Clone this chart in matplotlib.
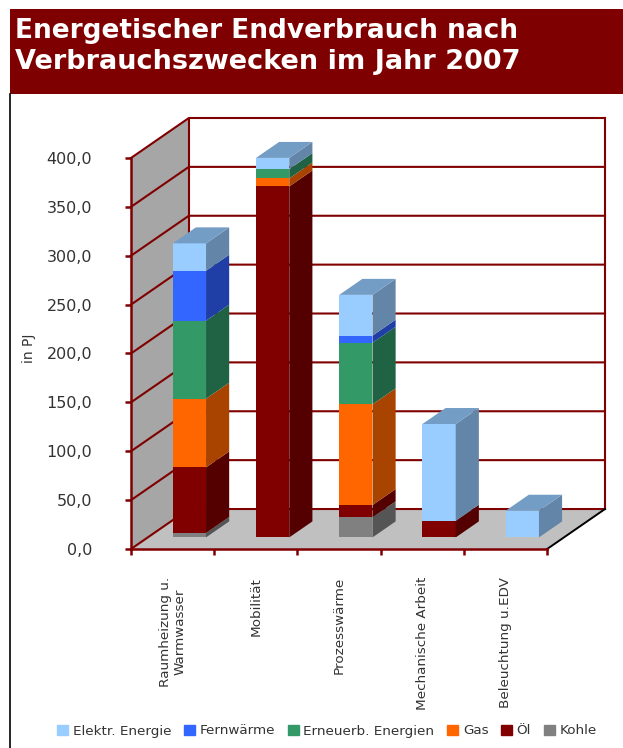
import numpy as np
import matplotlib
matplotlib.use('Agg')
import matplotlib.pyplot as plt
from matplotlib.patches import Patch, Rectangle

#Datos
kategorien=['Raumheizung u.\nWarmwasser','Mobilität','Prozesswärme','Mechanische Arbeit','Beleuchtung u.EDV']
kohle=[4.6,0,20.5,0,0]
oel=[67,359,12.6,17,0]
gas=[70.3,8.2,103,0,0]
erneuerb=[79.8,9.6,63,0,0]
fernwaerme=[51.1,0,7.3,0,0]
elektr=[28,11.4,41.7,99,27.3]
yticks=[0,50,100,150,200,250,300,350,400]
yticklabels=['0,0','50,0','100,0','150,0','200,0','250,0','300,0','350,0','400,0']

#nombre, valores, color frente, color lado (de abajo a arriba)
serien=[('Kohle',kohle,'#808080','#555555'),
        ('Öl',oel,'#800000','#540000'),
        ('Gas',gas,'#ff6600','#a84300'),
        ('Erneuerb. Energien',erneuerb,'#339966','#206344'),
        ('Fernwärme',fernwaerme,'#3366ff','#1f3fa6'),
        ('Elektr. Energie',elektr,'#99ccff','#6285a8')]
top_farbe='#749dc6'
rot='#800000'
text_farbe='#333333'

#Perspectiva oblicua
dx=0.695
dy=40.9

W,H=623.,748.
fig=plt.figure(figsize=(W/100,H/100),dpi=100,facecolor='white')
ax=fig.add_axes((131/W,1-549/H,474/W,431/H))
ax.set_xlim(0,5+dx)
ax.set_ylim(0,400+dy)
ax.patch.set_visible(False)

#Paredes y suelo
ax.fill([0,dx,dx,0],[0,dy,400+dy,400],color='#a6a6a6',lw=0,zorder=1)
ax.fill([0,5,5+dx,dx],[0,0,dy,dy],color='#c0c0c0',lw=0,zorder=1)
for v in yticks:
    ax.plot([0,dx,5+dx],[v,v+dy,v+dy],color=rot,lw=1.5,zorder=2,solid_capstyle='projecting',clip_on=False)
ax.plot([dx,dx],[dy,400+dy],color=rot,lw=1.5,zorder=2)
ax.plot([5+dx,5+dx],[dy,400+dy],color=rot,lw=1.5,zorder=2,clip_on=False)
ax.plot([5,5+dx],[0,dy],color='black',lw=1.4,zorder=2,clip_on=False)

#Barras
ancho=0.4
d0,d1=0.29,0.69
ex=(d1-d0)*dx
ey=(d1-d0)*dy
pos=np.arange(5)+0.5+d0*dx
basis=np.full(5,d0*dy)
for name,werte,farbe,seite in serien:
    werte=np.array(werte,dtype=float)
    ax.bar(pos,werte,ancho,bottom=basis,color=farbe,lw=0,zorder=4)
    for i in range(5):
        if werte[i]>0:
            xr=pos[i]+ancho/2
            a=basis[i]
            b=basis[i]+werte[i]
            ax.fill([xr,xr+ex,xr+ex,xr],[a,a+ey,b+ey,b],color=seite,lw=0,zorder=4)
    basis=basis+werte
for i in range(5):
    xl=pos[i]-ancho/2
    xr=pos[i]+ancho/2
    ax.fill([xl,xr,xr+ex,xl+ex],[basis[i],basis[i],basis[i]+ey,basis[i]+ey],color=top_farbe,lw=0,zorder=4)

#Ejes
for s in ['top','right']:
    ax.spines[s].set_visible(False)
ax.spines['left'].set_bounds(0,400)
ax.spines['bottom'].set_bounds(0,5)
for s in ['left','bottom']:
    ax.spines[s].set_color(rot)
    ax.spines[s].set_linewidth(1.8)
    ax.spines[s].set_zorder(3)
ax.set_yticks(yticks)
ax.set_yticklabels(yticklabels,fontsize=11.5,color=text_farbe)
ax.tick_params(axis='y',length=4,width=1.8,color=rot,pad=24)
ax.set_xticks(np.arange(6),minor=True)
ax.tick_params(axis='x',which='minor',length=4,width=1.8,color=rot)
ax.set_xticks(np.arange(5)+0.5)
ax.set_xticklabels(kategorien,rotation=90,fontsize=9.7,color=text_farbe,ha='center',va='top',linespacing=1.1)
ax.tick_params(axis='x',which='major',length=0,pad=20)
ax.set_ylabel('in PJ',fontsize=10,color=text_farbe)
ax.yaxis.set_label_coords(-0.2,0.466)

#Leyenda
griffe=[Patch(color=s[2],label=s[0]) for s in serien[::-1]]
fig.legend(handles=griffe,loc='center',bbox_to_anchor=(327/W,1-731/H),ncol=6,frameon=False,
           fontsize=9.7,handlelength=0.8,handleheight=0.8,handletextpad=0.35,columnspacing=0.95,
           labelcolor=text_farbe,borderpad=0)

#Titulo y marco
fig.add_artist(Rectangle((10/W,1-94/H),(W-10)/W,85/H,transform=fig.transFigure,color='#7f0000',lw=0))
fig.add_artist(plt.Line2D([10/W,10/W],[0,1-94/H],color='black',lw=1.2))
fig.text(15/W,1-31/H,'Energetischer Endverbrauch nach',color='white',
         fontsize=19,fontweight='bold',ha='left',va='center')
fig.text(15/W,1-62/H,'Verbrauchszwecken im Jahr 2007',color='white',
         fontsize=19.5,fontweight='bold',ha='left',va='center')

fig.savefig('out.png',dpi=100)
